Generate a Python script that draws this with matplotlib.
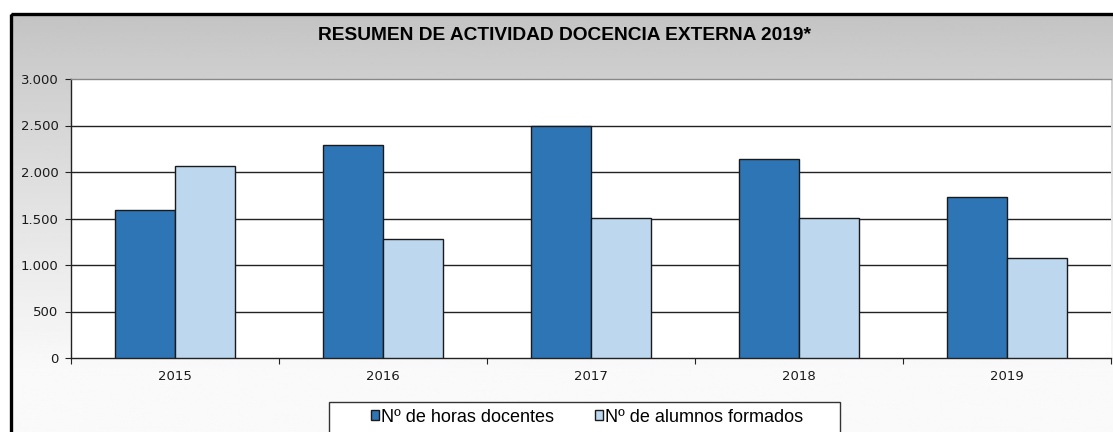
import numpy as np
import matplotlib.pyplot as plt
from matplotlib.patches import Rectangle
from matplotlib.ticker import FuncFormatter

# ==========================================
# DATA
# ==========================================
years = ["2015", "2016", "2017", "2018", "2019"]
horas_docentes = [1590, 2290, 2490, 2145, 1730]
alumnos_formados = [2065, 1280, 1505, 1505, 1075]

title = "RESUMEN DE ACTIVIDAD DOCENCIA EXTERNA 2019*"
label_horas = "Nº de horas docentes"
label_alumnos = "Nº de alumnos formados"

dark_blue = "#2e75b6"
light_blue = "#bdd7ee"

W, H = 1113, 432
fig = plt.figure(figsize=(W / 100, H / 100), dpi=100)

# ==========================================
# BACKGROUND (gray gradient + frame)
# ==========================================
bg = fig.add_axes([0, 0, 1, 1])
bg.set_xlim(0, W)
bg.set_ylim(H, 0)
bg.axis("off")
rows = np.linspace(0, 1, 200)
shade = 0.765 + (0.98 - 0.765) * np.clip(rows / 0.85, 0, 1) ** 0.9
grad = np.repeat(shade[:, None], 2, axis=1)
bg.imshow(grad, cmap="gray", vmin=0, vmax=1, extent=[11, W + 5, H + 5, 14],
          aspect="auto", zorder=0)
bg.add_patch(Rectangle((11, 14), W + 20, H + 20, fill=False,
                       edgecolor="black", linewidth=2.4, zorder=2))

# legend box (runs off the bottom edge like the original)
bg.add_patch(Rectangle((328.5, 401.5), 511, 40, facecolor="white",
                       edgecolor="#333333", linewidth=1.0, zorder=3))

# ==========================================
# BAR CHART
# ==========================================
ax = fig.add_axes([71 / W, 1 - 358 / H, 1040 / W, 279 / H])
ax.set_facecolor("white")

x = np.arange(len(years))
width = 0.288

ax.bar(x - width / 2, horas_docentes, width, color=dark_blue,
       edgecolor="#1a1a1a", linewidth=1.0, label=label_horas, zorder=3)
ax.bar(x + width / 2, alumnos_formados, width, color=light_blue,
       edgecolor="#1a1a1a", linewidth=1.0, label=label_alumnos, zorder=3)

ax.set_xlim(-0.5, len(years) - 0.5)
ax.set_ylim(0, 3000)
ax.set_yticks(range(0, 3001, 500))
ax.yaxis.set_major_formatter(
    FuncFormatter(lambda v, p: f"{int(v):,}".replace(",", ".")))

for yv in range(500, 3000, 500):
    ax.axhline(yv, color="#222222", linewidth=1.0, zorder=1)

ax.set_xticks(x)
ax.set_xticklabels(years)
ax.set_xticks(np.arange(-0.5, len(years)), minor=True)
ax.tick_params(axis="x", which="major", length=0, pad=9)
ax.tick_params(axis="x", which="minor", length=4, width=0.8, color="#222222")
ax.tick_params(axis="y", length=4, width=0.8, color="#222222", pad=5)
for lab in ax.get_xticklabels() + ax.get_yticklabels():
    lab.set_fontfamily("DejaVu Sans")
    lab.set_fontsize(9.5)
    lab.set_color("#1a1a1a")

ax.spines["top"].set_color("#888888")
ax.spines["right"].set_visible(False)
ax.spines["left"].set_color("#222222")
ax.spines["bottom"].set_color("#222222")
for s in ax.spines.values():
    s.set_linewidth(1.0)

fig.text(564 / W, 1 - 35 / H, title, ha="center", va="center",
         fontfamily="Liberation Sans", fontweight="bold", fontsize=13.8)

leg = fig.legend(loc="center", bbox_to_anchor=(587 / W, 1 - 417 / H), ncol=2,
                 frameon=False,
                 prop={"family": "Liberation Sans", "size": 13},
                 handlelength=0.42, handleheight=0.42, handletextpad=0.1,
                 columnspacing=2.3, borderpad=0.5)
leg.set_zorder(5)

fig.savefig("out.png", dpi=100)
